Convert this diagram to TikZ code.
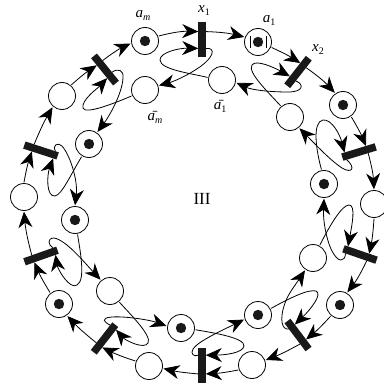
\documentclass[tikz,border=0pt]{standalone}
\usepackage{fontspec}
\setmainfont{Liberation Serif}
\usetikzlibrary{arrows.meta}
\newcommand{\subtxt}[1]{\raisebox{-3pt}{\fontsize{10}{10}\selectfont #1}}
\tikzset{
  place/.style={circle,draw,line width=0.8pt,minimum size=27pt,inner sep=0pt,outer sep=1.2pt},
  bar/.style={rectangle,fill=black!90,minimum width=35pt,minimum height=7.5pt,inner sep=0pt,outer sep=0pt},
  arc/.style={line width=0.8pt,-{Stealth[length=16pt,width=14pt,inset=5pt]}},
  lab/.style={inner sep=0pt,font=\fontsize{15}{17}\selectfont},
  dotmark/.style={fill=black!90}
}
\begin{document}
\begin{tikzpicture}[x=1pt,y=-1pt]
\useasboundingbox (0,0) rectangle (383,385);
% outer places
\node[place] (am) at (145,41) {};
\node[place] (a1) at (258,42) {};
\node[place] (o3) at (343,105) {};
\node[place] (o4) at (374,204) {};
\node[place] (o5) at (340,305) {};
\node[place] (o6) at (252,365) {};
\node[place] (o7) at (149,366) {};
\node[place] (o8) at (59,304) {};
\node[place] (o9) at (24,197) {};
\node[place] (o10) at (62,96) {};
% inner places
\node[place] (bam) at (145,90) {};
\node[place] (ba1) at (222,80) {};
\node[place] (i2) at (290,117) {};
\node[place] (i3) at (324,184) {};
\node[place] (i4) at (313,258) {};
\node[place] (i5) at (258,315) {};
\node[place] (i6) at (181,328) {};
\node[place] (i7) at (110,291) {};
\node[place] (i8) at (75,220) {};
\node[place] (i9) at (89,144) {};
% tokens
\foreach \p in {am,a1,o3,o5,o8,i3,i5,i6,i8,i9}
  \fill[dotmark] (\p.center) circle (5.2);
% the two strokes in a1
\draw[line width=0.9pt] (250,36) -- (250,48) (266,36) -- (266,48);
% transitions
\node[bar,rotate=90]     (t1) at (202,40) {};
\node[bar,rotate=52]     (t2) at (298,72) {};
\node[bar,rotate=17]     (t3) at (359,152) {};
\node[bar,rotate=-19]    (t4) at (360,254.5) {};
\node[bar,rotate=-53]    (t5) at (298,335) {};
\node[bar,rotate=-90]    (t6) at (202,365.5) {};
\node[bar,rotate=-128]   (t7) at (104.5,338.5) {};
\node[bar,rotate=-160.6] (t8) at (41,256) {};
\node[bar,rotate=162]    (t9) at (41,150.5) {};
\node[bar,rotate=129]    (t10) at (105,69.5) {};
% outer ring
\draw[arc] (am.20) to[bend left=8] (t1.24);
\draw[arc] (t1.-24) to[bend left=6] (a1.160);
\draw[arc] (a1.-22) to[bend left=4] (t2.24);
\draw[arc] (t2.-24) to[bend left=6] (o3.124);
\draw[arc] (o3.-55) to[bend left=4] (t3.24);
\draw[arc] (t3.-24) to[bend left=6] (o4.90);
\draw[arc] (o4.-90) to[bend left=4] (t4.24);
\draw[arc] (t4.-24) to[bend left=6] (o5.60);
\draw[arc] (o5.-130) to[bend left=4] (t5.24);
\draw[arc] (t5.-24) to[bend left=4] (o6.20);
\draw[arc] (o6.200) to[bend left=4] (t6.24);
\draw[arc] (t6.-24) to[bend left=4] (o7.-10);
\draw[arc] (o7.160) to[bend left=4] (t7.24);
\draw[arc] (t7.-24) to[bend left=4] (o8.-55);
\draw[arc] (o8.128) to[bend left=4] (t8.24);
\draw[arc] (t8.-24) to[bend left=5] (o9.-90);
\draw[arc] (o9.90) to[bend left=4] (t9.24);
\draw[arc] (t9.-24) to[bend left=4] (o10.-130);
\draw[arc] (o10.50) to[bend left=4] (t10.24);
\draw[arc] (t10.-24) to[bend left=6] (am.190);
% loops
\draw[arc] (t1.-156) .. controls (216,47) and (216,58) .. (192,72) .. controls (182,78) and (172,82) .. (bam.18);
\draw[arc] (ba1.170) .. controls (195,74) and (160,70) .. (160,60) .. controls (160,52) and (180,48) .. (t1.156);
\draw[arc] (i2.130) .. controls (268,92) and (247,72) .. (252,65) .. controls (256,59) and (275,68) .. (t2.156);
\draw[arc] (t2.-156) .. controls (304,84) and (304,92) .. (288,92) .. controls (270,92) and (252,90) .. (ba1.-11);
\draw[arc] (i3.100) .. controls (316,150) and (312,122) .. (323,120) .. controls (332,119) and (340,135) .. (t3.165);
\draw[arc] (t3.-165) .. controls (356,168) and (352,174) .. (342,168) .. controls (330,160) and (316,145) .. (i2.-50);
\draw[arc] (i4.62) .. controls (330,225) and (342,205) .. (349,205) .. controls (356,205) and (352,225) .. (t4.165);
\draw[arc] (t4.-165) .. controls (345,262) and (338,264) .. (331,249) .. controls (326,238) and (323,220) .. (i3.-90);
\draw[arc] (i5.27) .. controls (290,298) and (308,289) .. (316,291) .. controls (323,294) and (310,310) .. (t5.160);
\draw[arc] (t5.-160) .. controls (282,330) and (279,320) .. (285,303) .. controls (288,294) and (296,284) .. (i4.-123);
\draw[arc] (i6.-7) .. controls (215,333) and (245,338) .. (244,346) .. controls (243,353) and (225,355) .. (t6.160);
\draw[arc] (t6.-160) .. controls (194,357) and (190,354) .. (193,349) .. controls (198,341) and (225,329) .. (i5.-162);
\draw[arc] (i7.-50) .. controls (132,316) and (152,336) .. (148,343) .. controls (144,350) and (125,340) .. (t7.165);
\draw[arc] (t7.-165) .. controls (104,322) and (100,318) .. (112,317) .. controls (125,316) and (150,320) .. (i6.172);
\draw[arc] (i8.-80) .. controls (80,250) and (86,280) .. (77,285) .. controls (70,290) and (58,270) .. (t8.165);
\draw[arc] (t8.-165) .. controls (48,245) and (47,238) .. (54,238) .. controls (66,240) and (84,262) .. (i7.130);
\draw[arc] (i9.-120) .. controls (72,172) and (62,195) .. (55,196) .. controls (46,197) and (47,175) .. (t9.165);
\draw[arc] (t9.-165) .. controls (52,145) and (58,142) .. (62,146) .. controls (70,155) and (78,180) .. (i8.90);
\draw[arc] (bam.-156) .. controls (115,103) and (85,115) .. (83,108) .. controls (81,100) and (98,88) .. (t10.155);
\draw[arc] (t10.-150) .. controls (118,68) and (124,70) .. (123,78) .. controls (122,95) and (108,118) .. (i9.55);
% labels
\node[lab] (lam) at (143,15) {\textit{a}\subtxt{\textit{m}}};
\node[lab] (lx1) at (204,10.5) {\textit{x}\subtxt{1}};
\node[lab] (la1) at (269,20) {\textit{a}\subtxt{1}};
\node[lab] (lx2) at (318,50) {\textit{x}\subtxt{2}};
\node[lab] (lba1) at (220,106) {\={\textit{a}}\subtxt{1}};
\node[lab] (lbam) at (155,117) {\={\textit{a}}\subtxt{\textit{m}}};
\node[lab,font=\fontsize{17}{19}\selectfont] (l3) at (202,199) {III};
\end{tikzpicture}
\end{document}
